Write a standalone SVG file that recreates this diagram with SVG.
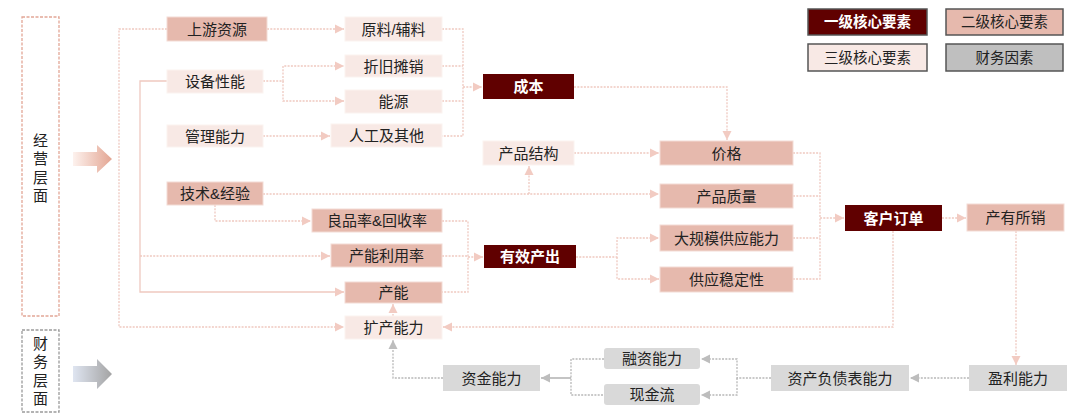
<svg xmlns="http://www.w3.org/2000/svg" width="1080" height="420" viewBox="0 0 1080 420">
<defs>
<style>
text{font-family:"Liberation Sans","Noto Sans CJK SC",sans-serif;font-size:15px;fill:#222;text-anchor:middle;dominant-baseline:central}
.l1 rect{fill:#600000}
.l1 text{fill:#fff;font-weight:bold}
.l2 rect{fill:#e6b9ad;stroke:#f3dcd5;stroke-width:1}
.l3 rect{fill:#f8e9e5;stroke:#fbf3f0;stroke-width:1}
.fin rect{fill:#d9d9d9}
.lg rect{stroke:#555;stroke-width:1.5}
.lg text{font-size:14.5px}
.pk{fill:none;stroke:#efc9c0;stroke-width:1.3;stroke-dasharray:2 1.3}
.pks{fill:none;stroke:#efc9c0;stroke-width:1.3}
.gy{fill:none;stroke:#b8b8b8;stroke-width:1.3;stroke-dasharray:2 1.3}
.gys{fill:none;stroke:#b0b0b0;stroke-width:1.5}
.pk,.pks{marker-end:url(#ap)}
.gy,.gys{marker-end:url(#ag)}
.nm{marker-end:none}
</style>
<marker id="ap" markerUnits="userSpaceOnUse" markerWidth="9" markerHeight="10" refX="9" refY="5" orient="auto"><path d="M0,0.5 L9,5 L0,9.5 z" fill="#f2cbc2"/></marker>
<marker id="ag" markerUnits="userSpaceOnUse" markerWidth="9" markerHeight="10" refX="9" refY="5" orient="auto"><path d="M0,0.5 L9,5 L0,9.5 z" fill="#bdbdbd"/></marker>
<linearGradient id="gp" x1="0" x2="1" y1="0" y2="0"><stop offset="0" stop-color="#fdf2ee"/><stop offset="1" stop-color="#e3a592"/></linearGradient>
<linearGradient id="gg" x1="0" x2="1" y1="0" y2="0"><stop offset="0" stop-color="#dfe5f1"/><stop offset="1" stop-color="#a3a3a3"/></linearGradient>
</defs>
<rect width="1080" height="420" fill="#fff"/>

<g id="panel-ops">
<rect x="22" y="17" width="37" height="299" fill="none" stroke="#e2a696" stroke-width="1.3" stroke-dasharray="3 1.5"/>
<text x="40.5" y="140">经</text><text x="40.5" y="158">营</text><text x="40.5" y="177">层</text><text x="40.5" y="195">面</text>
<polygon points="73,152 97,152 97,145 112,159 97,173 97,166 73,166" fill="url(#gp)"/>
</g>
<g id="panel-fin">
<rect x="22" y="330" width="37" height="82" fill="none" stroke="#9a9a9a" stroke-width="1.3" stroke-dasharray="3 1.5"/>
<text x="40.5" y="343">财</text><text x="40.5" y="361.5">务</text><text x="40.5" y="380">层</text><text x="40.5" y="398.5">面</text>
<polygon points="73,366 97,366 97,359 112,374 97,389 97,382 73,382" fill="url(#gg)"/>
</g>

<g id="legend">
<g id="lg1" class="lg l1"><rect x="808" y="9" width="119" height="26"/><text x="867.5" y="22">一级核心要素</text></g>
<g id="lg2" class="lg"><rect x="946" y="9" width="117" height="26" fill="#e6b9ad"/><text x="1004.5" y="22">二级核心要素</text></g>
<g id="lg3" class="lg"><rect x="808" y="44" width="119" height="27" fill="#f8e9e5"/><text x="867.5" y="57.5">三级核心要素</text></g>
<g id="lg4" class="lg"><rect x="946" y="44" width="117" height="27" fill="#bfbfbf"/><text x="1004.5" y="57.5">财务因素</text></g>
</g>

<g id="connectors">
<path class="pk" d="M167,29 H119 V327 H344"/>
<path class="pks" d="M167,81 H140 V292 H344"/>
<path class="pk" d="M140,256 H330"/>
<path class="pk" d="M267,29 H344"/>
<path class="pk" d="M263,81 H283 V66 H344"/>
<path class="pk" d="M283,81 V101 H344"/>
<path class="pk" d="M263,136 H330"/>
<path class="pk nm" d="M442,29 H463 V136 H442"/>
<path class="pk nm" d="M442,66 H463"/>
<path class="pk nm" d="M442,101 H463"/>
<path class="pk" d="M463,87 H482"/>
<path class="pk" d="M574,87 H727 V140"/>
<path class="pk" d="M574,153 H659"/>
<path class="pk" d="M263,194 H659"/>
<path class="pk" d="M529,194 V166"/>
<path class="pk" d="M215,205 V221 H311"/>
<path class="pk nm" d="M442,221 H468 V292 H442"/>
<path class="pk nm" d="M442,256 H468"/>
<path class="pk" d="M468,257 H483"/>
<path class="pk" d="M576,257 H617 V238 H659"/>
<path class="pk" d="M617,257 V279 H659"/>
<path class="pk" d="M393,316 V304"/>
<path class="pk nm" d="M793,153 H820 V279 H793"/>
<path class="pk nm" d="M793,196 H820"/>
<path class="pk nm" d="M793,238 H820"/>
<path class="pk" d="M820,218 H844"/>
<path class="pk" d="M942,218 H966"/>
<path class="pk" d="M893,231 V327 H443"/>
<path class="pk" d="M1016,231 V365"/>
<path class="gy" d="M969,378 H910"/>
<path class="gy" d="M771,378 H737 V359 H701"/>
<path class="gy" d="M737,378 V395 H701"/>
<path class="gy nm" d="M604,359 H571 V395 H604"/>
<path class="gys" d="M571,378 H541"/>
<path class="gy" d="M443,378 H393 V340"/>
</g>

<g id="n-shangyou" class="l2"><rect x="167" y="17" width="100" height="24"/><text x="217" y="29">上游资源</text></g>
<g id="n-shebei" class="l3"><rect x="167" y="70" width="96" height="23"/><text x="215" y="81.5">设备性能</text></g>
<g id="n-guanli" class="l3"><rect x="167" y="125" width="96" height="22"/><text x="215" y="136">管理能力</text></g>
<g id="n-jishu" class="l2"><rect x="167" y="182" width="96" height="23"/><text x="215" y="193.5">技术&amp;经验</text></g>
<g id="n-yuanliao" class="l3"><rect x="345" y="17" width="97" height="24"/><text x="393.5" y="29">原料/辅料</text></g>
<g id="n-zhejiu" class="l3"><rect x="345" y="55" width="97" height="22"/><text x="393.5" y="66">折旧摊销</text></g>
<g id="n-nengyuan" class="l3"><rect x="345" y="90" width="97" height="23"/><text x="393.5" y="101.5">能源</text></g>
<g id="n-rengong" class="l3"><rect x="331" y="124" width="111" height="23"/><text x="386.5" y="135.5">人工及其他</text></g>
<g id="n-liangpin" class="l2"><rect x="312" y="209" width="130" height="23"/><text x="377" y="220.5">良品率&amp;回收率</text></g>
<g id="n-chanlv" class="l2"><rect x="331" y="244" width="111" height="23"/><text x="386.5" y="255.5">产能利用率</text></g>
<g id="n-channeng" class="l2"><rect x="345" y="282" width="97" height="21"/><text x="393.5" y="292.5">产能</text></g>
<g id="n-kuochan" class="l3"><rect x="345" y="316" width="97" height="23"/><text x="393.5" y="327.5">扩产能力</text></g>
<g id="n-chengben" class="l1"><rect x="483" y="74" width="91" height="25"/><text x="528.5" y="86.5">成本</text></g>
<g id="n-jiegou" class="l3"><rect x="483" y="141" width="91" height="24"/><text x="528.5" y="153">产品结构</text></g>
<g id="n-youxiao" class="l1"><rect x="484" y="245" width="92" height="23"/><text x="530" y="256.5">有效产出</text></g>
<g id="n-jiage" class="l2"><rect x="660" y="141" width="133" height="24"/><text x="726.5" y="153">价格</text></g>
<g id="n-zhiliang" class="l2"><rect x="660" y="184" width="133" height="24"/><text x="726.5" y="196">产品质量</text></g>
<g id="n-guimo" class="l2"><rect x="660" y="225" width="133" height="26"/><text x="726.5" y="238">大规模供应能力</text></g>
<g id="n-wending" class="l2"><rect x="660" y="267" width="133" height="25"/><text x="726.5" y="279.5">供应稳定性</text></g>
<g id="n-kehu" class="l1"><rect x="845" y="205" width="97" height="26"/><text x="893.5" y="218">客户订单</text></g>
<g id="n-chanyou" class="l2"><rect x="967" y="204" width="97" height="27"/><text x="1015.5" y="217.5">产有所销</text></g>
<g id="n-yingli" class="fin"><rect x="969" y="365" width="98" height="26"/><text x="1018" y="378">盈利能力</text></g>
<g id="n-zichan" class="fin"><rect x="771" y="365" width="138" height="26"/><text x="840" y="378">资产负债表能力</text></g>
<g id="n-rongzi" class="fin"><rect x="604" y="348" width="96" height="21" rx="3"/><text x="652" y="358.5">融资能力</text></g>
<g id="n-xianjin" class="fin"><rect x="604" y="384" width="96" height="21" rx="3"/><text x="652" y="394.5">现金流</text></g>
<g id="n-zijin" class="fin"><rect x="443" y="365" width="97" height="26"/><text x="491.5" y="378">资金能力</text></g>
</svg>
